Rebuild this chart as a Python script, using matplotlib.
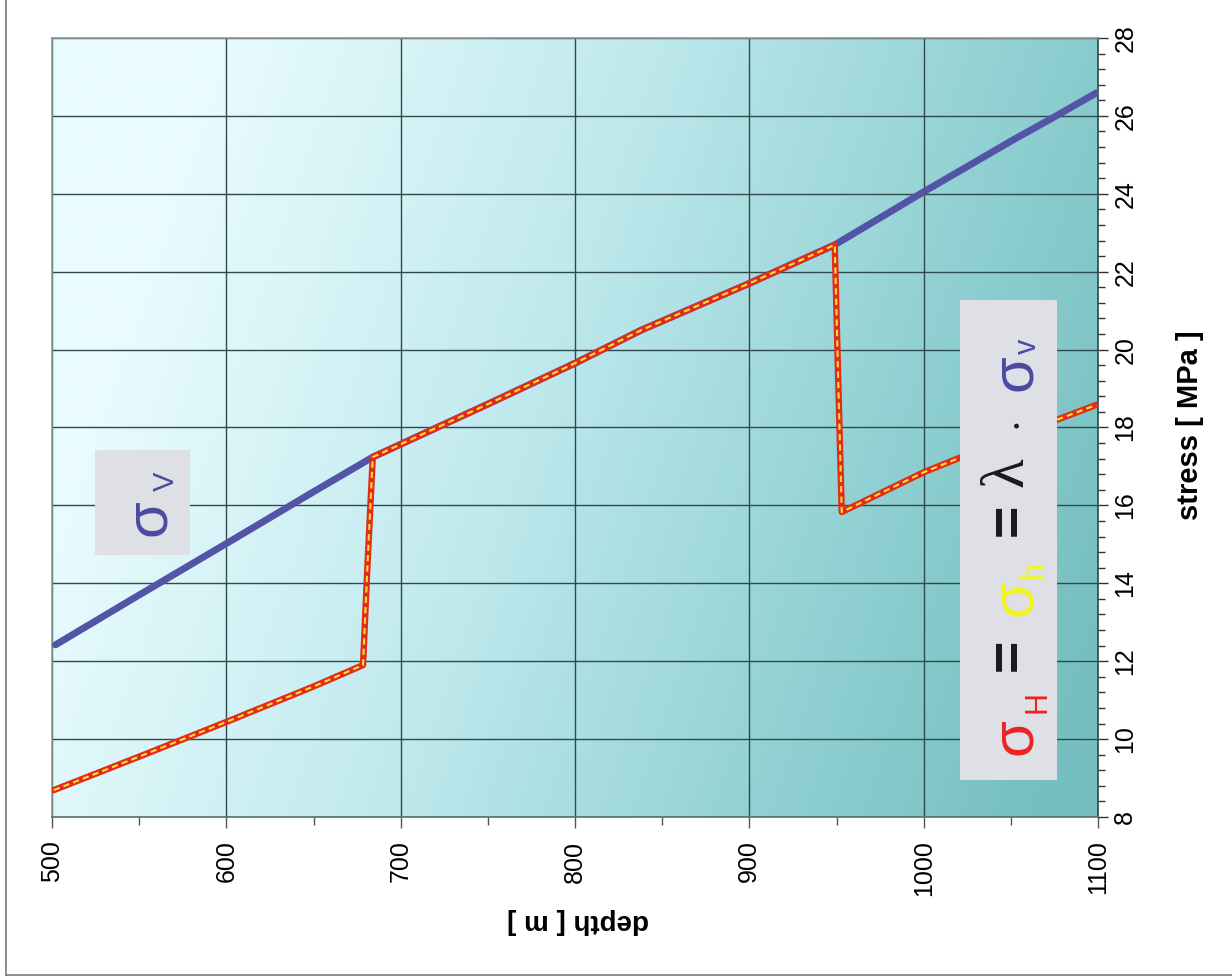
import numpy as np
import matplotlib
matplotlib.use('Agg')
import matplotlib.pyplot as plt
from matplotlib.colors import LinearSegmentedColormap
from matplotlib.patches import Rectangle
from matplotlib.lines import Line2D
from matplotlib import font_manager
from matplotlib.ticker import MultipleLocator

# ---------------- data ----------------
depth_v = [502, 550, 600, 650, 684, 750, 800, 838, 900, 949, 1000, 1050, 1078, 1099]
sigma_v = [12.42, 13.70, 15.02, 16.35, 17.24, 18.60, 19.65, 20.50, 21.70, 22.69, 24.05, 25.35, 26.05, 26.59]

depth_h = [501, 550, 600, 650, 678.4, 681, 684, 750, 800, 838, 900, 949, 951, 953, 1000, 1050, 1099]
sigma_h = [8.69, 9.55, 10.44, 11.35, 11.90, 14.5, 17.24, 18.60, 19.65, 20.50, 21.70, 22.69, 19.2, 15.83, 16.85, 17.75, 18.58]

depth_ticks = [500, 600, 700, 800, 900, 1000, 1100]
stress_ticks = [8, 10, 12, 14, 16, 18, 20, 22, 24, 26, 28]

# ---------------- fonts ----------------
names = {f.name for f in font_manager.fontManager.ttflist}
SANS = 'Liberation Sans' if 'Liberation Sans' in names else 'DejaVu Sans'
NARROW = 'Liberation Sans Narrow' if 'Liberation Sans Narrow' in names else SANS
SERIF = 'Liberation Serif' if 'Liberation Serif' in names else 'DejaVu Serif'
plt.rcParams['font.family'] = [SANS, 'DejaVu Sans']

W, H = 1232, 977
fig = plt.figure(figsize=(W / 100, H / 100), dpi=100)
fig.patch.set_facecolor('white')

L, R, T, B = 52, 1098, 38, 817
ax = fig.add_axes([L / W, 1 - B / H, (R - L) / W, (B - T) / H])

# background gradient
nx, ny = 400, 300
u = np.linspace(0, 1, nx)[None, :]
v = np.linspace(0, 1, ny)[:, None]
t = np.clip((1.0 * u + 0.25 * v - 0.15) / 1.05, 0, 1)
cmap = LinearSegmentedColormap.from_list('bg', [(0, '#eafcfe'), (0.4, '#bfe9ed'),
                                                (0.75, '#90d0d2'), (1, '#76bec0')])
ax.imshow(t, extent=[500, 1100, 8, 28], aspect='auto', cmap=cmap, vmin=0, vmax=1,
          zorder=0, interpolation='bilinear')

ax.set_xlim(500, 1100)
ax.set_ylim(8, 28)
ax.set_xticks(depth_ticks)
ax.set_yticks(stress_ticks)
ax.xaxis.set_minor_locator(MultipleLocator(50))
ax.yaxis.set_minor_locator(MultipleLocator(0.4))
ax.yaxis.tick_right()
ax.grid(True, which='major', color='#2e4a4a', lw=1.0, zorder=1)

ax.tick_params(axis='x', which='major', direction='out', length=8, width=1, color='#555555', pad=9)
ax.tick_params(axis='x', which='minor', direction='out', length=6, width=1, color='#555555')
ax.tick_params(axis='y', which='major', direction='out', length=7, width=1, color='#333333', pad=4)
ax.tick_params(axis='y', which='minor', direction='out', length=5, width=1, color='#333333')
ax.set_xticklabels([str(d) for d in depth_ticks], rotation=90, ha='center', va='top',
                   fontsize=18, family=SANS)
ax.set_yticklabels([str(s) for s in stress_ticks], rotation=90, ha='left', va='center',
                   fontsize=18, family=NARROW)

for side, c in [('left', '#8a9a9a'), ('top', '#8a9a9a'), ('right', '#2c4a4a'), ('bottom', '#5a6e6e')]:
    ax.spines[side].set_color(c)
    ax.spines[side].set_linewidth(1.2)

# curves
ax.plot(depth_v, sigma_v, color='#5454a6', lw=5.0, solid_capstyle='round', solid_joinstyle='round', zorder=3)
ax.plot(depth_h, sigma_h, color='#e42a1c', lw=4.6, solid_capstyle='round', solid_joinstyle='round', zorder=4)
ax.plot(depth_h, sigma_h, color='#f6e42a', lw=1.5, dashes=(3, 2), zorder=5)

# axis titles
def ftext(x, y, s, **kw):
    return fig.text(x / W, 1 - y / H, s, **kw)

ftext(578, 921, 'depth [ m ]', rotation=180, ha='center', va='center', fontsize=20,
      fontweight='bold', family=SANS)
ftext(1190, 425, 'stress [ MPa ]', rotation=90, ha='center', va='center', fontsize=21,
      fontweight='bold', family=NARROW)

# annotation boxes
def fbox(x0, y0, x1, y1):
    fig.add_artist(Rectangle((x0 / W, 1 - y1 / H), (x1 - x0) / W, (y1 - y0) / H,
                             transform=fig.transFigure, facecolor='#dfe0e5',
                             edgecolor='none', zorder=6))

fbox(95, 450, 190, 555)
fbox(960, 300, 1057, 780)

BLUE = '#4a4aa2'
RED = '#ee2222'
YEL = '#f4f41c'
kw = dict(rotation=90, ha='center', va='center', zorder=7)

ftext(150, 518, 'σ', color=BLUE, fontsize=43, family=SANS, **kw)
ftext(166, 481, 'V', color=BLUE, fontsize=21, family=SANS, **kw)

ftext(1016, 737, 'σ', color=RED, fontsize=43, family=SANS, **kw)
ftext(1037, 702, 'H', color=RED, fontsize=22, family=SANS, **kw)
ftext(1010, 655, '=', color='#1a1a1a', fontsize=40, fontweight='bold', family=SANS, **kw)
ftext(1016, 598, 'σ', color=YEL, fontsize=43, family=SANS, **kw)
ftext(1034, 570, 'h', color=YEL, fontsize=22, family=SANS, **kw)
ftext(1010, 520, '=', color='#1a1a1a', fontsize=40, fontweight='bold', family=SANS, **kw)
ftext(1008, 472, 'λ', color='#1a1a1a', fontsize=44, family=SERIF, **kw)
ftext(1017, 423, '•', color='#1a1a1a', fontsize=12, family='DejaVu Sans', **kw)
ftext(1016, 373, 'σ', color=BLUE, fontsize=43, family=SANS, **kw)
ftext(1028, 346, 'v', color=BLUE, fontsize=22, family=SANS, **kw)

# outer frame lines
fig.add_artist(Line2D([5.5 / W, 5.5 / W], [1 - 975 / H, 1.0], transform=fig.transFigure,
                      color='#7a7a7a', lw=1.2))
fig.add_artist(Line2D([5.5 / W, 1.0], [1 - 975 / H, 1 - 975 / H], transform=fig.transFigure,
                      color='#7a7a7a', lw=1.2))

fig.savefig('out.png', dpi=100)
